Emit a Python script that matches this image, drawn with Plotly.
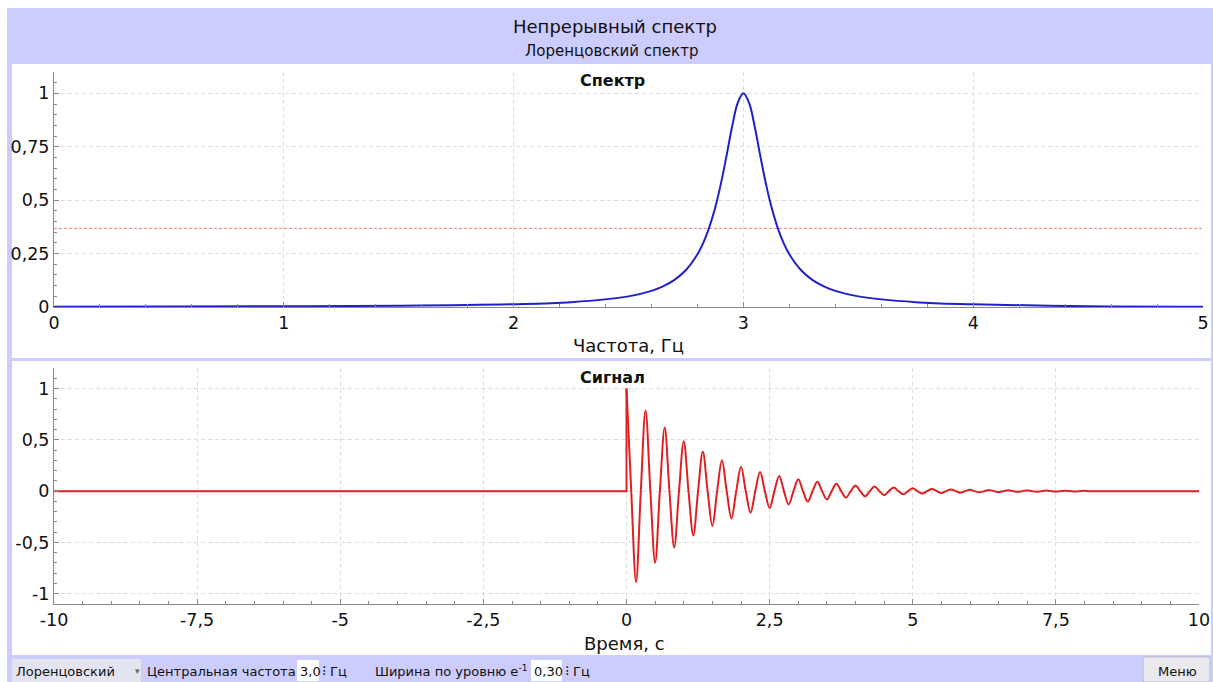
import plotly.graph_objects as go

W, H = 1213, 682

# Lorentzian spectrum (frequency in Hz, normalised amplitude)
SPEC_F = [0.0, 0.5, 1.0, 1.5, 2.0, 2.25, 2.5, 2.6, 2.65, 2.7, 2.75, 2.8, 2.825, 2.85, 2.875,
          2.9, 2.925, 2.95, 2.975, 3.0, 3.025, 3.05, 3.075, 3.1, 3.125, 3.15, 3.175, 3.2,
          3.25, 3.3, 3.35, 3.4, 3.5, 3.75, 4.0, 4.5, 5.0]
SPEC_A = [0.0015, 0.0021, 0.0033, 0.0058, 0.0129, 0.0227, 0.0497, 0.0756, 0.0965, 0.127, 0.173,
          0.2465, 0.299, 0.368, 0.456, 0.567, 0.699, 0.840, 0.954, 1.0, 0.954, 0.840, 0.699,
          0.567, 0.456, 0.368, 0.299, 0.2465, 0.173, 0.127, 0.0965, 0.0756, 0.0497, 0.0227,
          0.0129, 0.0033, 0.0015]

# e^-1 level marker
E_LEVEL = 0.368

# Damped signal: extrema and zero crossings (time in s)
SIGNAL_T = [
    0.0, 0.083, 0.167, 0.25, 0.333, 0.417, 0.5, 0.583, 0.667, 0.75, 0.833, 0.917,
    1.0, 1.083, 1.167, 1.25, 1.333, 1.417, 1.5, 1.583, 1.667, 1.75, 1.833, 1.917,
    2.0, 2.083, 2.167, 2.25, 2.333, 2.417, 2.5, 2.583, 2.667, 2.75, 2.833, 2.917,
    3.0, 3.083, 3.167, 3.25, 3.333, 3.417, 3.5, 3.583, 3.667, 3.75, 3.833, 3.917,
    4.0, 4.083, 4.167, 4.25, 4.333, 4.417, 4.5, 4.583, 4.667, 4.75, 4.833, 4.917,
    5.0, 5.083, 5.167, 5.25, 5.333, 5.417, 5.5, 5.583, 5.667, 5.75, 5.833, 5.917,
    6.0, 6.083, 6.167, 6.25, 6.333, 6.417, 6.5, 6.583, 6.667, 6.75, 6.833, 6.917,
    7.0, 7.083, 7.167, 7.25, 7.333, 7.417, 7.5, 7.583, 7.667, 7.75, 7.833, 7.917,
    8.0, 8.083, 10.0]
SIGNAL_V = [
    1.0, 0, -0.887, 0, 0.787, 0, -0.698, 0, 0.619, 0, -0.549, 0,
    0.487, 0, -0.432, 0, 0.383, 0, -0.340, 0, 0.301, 0, -0.267, 0,
    0.237, 0, -0.210, 0, 0.186, 0, -0.165, 0, 0.147, 0, -0.130, 0,
    0.115, 0, -0.102, 0, 0.091, 0, -0.081, 0, 0.071, 0, -0.063, 0,
    0.056, 0, -0.050, 0, 0.044, 0, -0.039, 0, 0.035, 0, -0.031, 0,
    0.027, 0, -0.024, 0, 0.021, 0, -0.019, 0, 0.017, 0, -0.015, 0,
    0.013, 0, -0.012, 0, 0.011, 0, -0.009, 0, 0.008, 0, -0.007, 0,
    0.007, 0, -0.006, 0, 0.005, 0, -0.005, 0, 0.004, 0, -0.004, 0,
    0.003, 0, 0]
# signal before the onset
PRE_T = [-10.0, 0.0, 0.0]
PRE_V = [0.0, 0.0, 1.0]

# tick labels
SPEC_XTICKS = [0, 1, 2, 3, 4, 5]
SPEC_YTICKS = [0, 0.25, 0.5, 0.75, 1]
SPEC_YTEXT = ["0", "0,25", "0,5", "0,75", "1"]
SIG_XTICKS = [-10, -7.5, -5, -2.5, 0, 2.5, 5, 7.5, 10]
SIG_XTEXT = ["-10", "-7,5", "-5", "-2,5", "0", "2,5", "5", "7,5", "10"]
SIG_YTICKS = [-1, -0.5, 0, 0.5, 1]
SIG_YTEXT = ["-1", "-0,5", "0", "0,5", "1"]

FONT = "DejaVu Sans"
BG = "#ccccfd"
GRID = "#dedede"
AXIS = "#8a8a8a"


def px(x):
    return x / W


def py(y):
    return 1 - y / H


fig = go.Figure()

fig.add_trace(go.Scatter(x=[0, 5], y=[E_LEVEL, E_LEVEL], mode="lines",
                         line=dict(color="rgba(235,90,90,0.75)", width=1, dash="3px,2px"),
                         xaxis="x", yaxis="y", hoverinfo="skip"))
fig.add_trace(go.Scatter(x=SPEC_F, y=SPEC_A, mode="lines",
                         line=dict(color="#2020c8", width=2, shape="spline", smoothing=1.0),
                         xaxis="x", yaxis="y"))
fig.add_trace(go.Scatter(x=PRE_T, y=PRE_V, mode="lines",
                         line=dict(color="#e02020", width=2),
                         xaxis="x2", yaxis="y2"))
fig.add_trace(go.Scatter(x=SIGNAL_T, y=SIGNAL_V, mode="lines",
                         line=dict(color="#e02020", width=2, shape="spline", smoothing=1.0),
                         xaxis="x2", yaxis="y2"))

axis_common = dict(showline=True, linecolor=AXIS, linewidth=1, showgrid=True,
                   gridcolor=GRID, griddash="4px,3px", gridwidth=1, zeroline=False,
                   ticks="inside", ticklen=5, tickcolor=AXIS, automargin=False,
                   tickfont=dict(family=FONT, size=17.5, color="#111"),
                   tickmode="array", fixedrange=True)

fig.update_layout(
    width=W, height=H, margin=dict(l=0, r=0, t=0, b=0, pad=0), autosize=False,
    paper_bgcolor="white", plot_bgcolor="white", showlegend=False,
    xaxis=dict(axis_common, domain=[px(54), px(1203)], range=[0, 5],
               tickvals=SPEC_XTICKS, ticktext=[str(v) for v in SPEC_XTICKS],
               anchor="y",
               minor=dict(dtick=0.2, tick0=0, ticks="inside", ticklen=3, tickcolor=AXIS, showgrid=False)),
    yaxis=dict(axis_common, domain=[py(307), py(72)], range=[0, 1.1],
               tickvals=SPEC_YTICKS, ticktext=SPEC_YTEXT, anchor="x",
               minor=dict(dtick=0.05, tick0=0, ticks="inside", ticklen=3, tickcolor=AXIS, showgrid=False)),
    xaxis2=dict(axis_common, domain=[px(54), px(1199)], range=[-10, 10],
                tickvals=SIG_XTICKS, ticktext=SIG_XTEXT, anchor="y2",
                minor=dict(dtick=0.5, tick0=0, ticks="inside", ticklen=3, tickcolor=AXIS, showgrid=False)),
    yaxis2=dict(axis_common, domain=[py(604), py(368)], range=[-1.1, 1.2],
                tickvals=SIG_YTICKS, ticktext=SIG_YTEXT, anchor="x2",
                minor=dict(dtick=0.1, tick0=0, ticks="inside", ticklen=3, tickcolor=AXIS, showgrid=False)),
)

shapes = [
    # window background
    dict(type="rect", xref="paper", yref="paper", x0=px(7), x1=px(W), y0=py(H), y1=py(8),
         fillcolor=BG, line=dict(width=0), layer="below"),
    # chart panels
    dict(type="rect", xref="paper", yref="paper", x0=px(12), x1=px(1211), y0=py(358), y1=py(64),
         fillcolor="white", line=dict(width=0), layer="below"),
    dict(type="rect", xref="paper", yref="paper", x0=px(12), x1=px(1211), y0=py(655), y1=py(361),
         fillcolor="white", line=dict(width=0), layer="below"),
    # control bar widgets
    dict(type="rect", xref="paper", yref="paper", x0=px(12), x1=px(141), y0=py(682), y1=py(659),
         fillcolor="#e4e4f0", line=dict(width=0), layer="below"),
    dict(type="rect", xref="paper", yref="paper", x0=px(297), x1=px(319), y0=py(681), y1=py(660),
         fillcolor="white", line=dict(width=0), layer="below"),
    dict(type="rect", xref="paper", yref="paper", x0=px(531), x1=px(562), y0=py(681), y1=py(660),
         fillcolor="white", line=dict(width=0), layer="below"),
    dict(type="rect", xref="paper", yref="paper", x0=px(1143), x1=px(1210), y0=py(682), y1=py(657),
         fillcolor="#e9e9ee", line=dict(color="#b8b8c8", width=1), layer="below"),
]
fig.update_layout(shapes=shapes)


def label(text, x, y, size, anchor="center", bold=False, color="#111"):
    if bold:
        text = "<b>" + text + "</b>"
    fig.add_annotation(text=text, xref="paper", yref="paper", x=px(x), y=py(y),
                       xanchor=anchor, yanchor="middle", showarrow=False,
                       font=dict(family=FONT, size=size, color=color))


label("Непрерывный спектр", 615, 27, 18)
label("Лоренцовский спектр", 611, 51, 15)
label("Спектр", 612, 80, 16, bold=True)
label("Частота, Гц", 628, 345, 18)
label("Сигнал", 612, 378, 16, bold=True)
label("Время, с", 624, 643, 18)

label("Лоренцовский", 14, 671, 13, anchor="left")
label("▾", 133, 671, 9, anchor="left", color="#666")
label("Центральная частота", 145, 671, 13, anchor="left")
label("3,0", 298, 671, 13, anchor="left")
label("⁝", 320, 671, 14, anchor="left")
label("Гц", 328, 671, 13, anchor="left")
label("Ширина по уровню e<sup>-1</sup>", 373, 671, 13, anchor="left")
label("0,30", 532, 671, 13, anchor="left")
label("⁝", 563, 671, 14, anchor="left")
label("Гц", 571, 671, 13, anchor="left")
label("Меню", 1177, 671, 13)

fig.write_html("out.html")
